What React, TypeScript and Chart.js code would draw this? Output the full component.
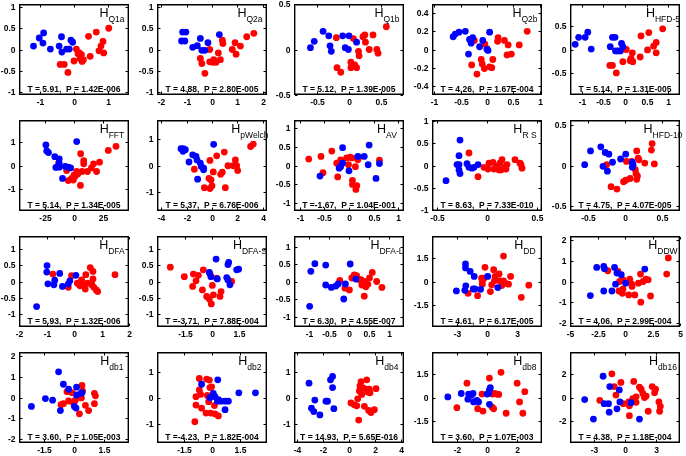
import React, { useEffect, useRef } from 'react';
import { Chart, registerables } from 'chart.js';
Chart.register(...registerables);

type Pt = [number, number];

// ---------- data (x = first feature score, y = second score) ----------
const q1aBlue: Pt[] = [[-1.2,0.08],[-1.03,0.27],[-0.9,0.39],[-0.92,0.15],[-0.7,0.01],[-0.44,0.08],[-0.37,0.3],[-0.36,-0.06],[-0.22,0.01],[-0.14,0.01],[-0.09,0.22],[-0.04,0.17]];
const q1aRed: Pt[] = [[0.07,0.01],[0.16,-0.08],[0,-0.27],[-0.41,-0.35],[-0.29,-0.35],[-0.18,-0.54],[0.18,-0.21],[0.24,-0.28],[0.28,-0.24],[0.22,-0.12],[0.48,-0.16],[0.43,0.31],[0.66,0.41],[1.03,0.5],[0.86,0.19],[0.8,0.08],[0.74,-0.03],[0.88,-0.08],[0.12,-0.1]];
const q2aBlue: Pt[] = [[-1.16,0.41],[-1.03,0.41],[-1.2,0.2],[-1.07,0.2],[-0.76,0.05],[-0.58,0.09],[-0.46,0.26],[-0.4,-0.02],[-0.28,-0.02],[-0.16,0.16],[0.29,0.35]];
const q2aRed: Pt[] = [[-0.09,0],[-0.46,-0.21],[-0.4,-0.33],[-0.28,-0.56],[-0.09,-0.29],[0.07,-0.24],[0.16,-0.3],[0.25,-0.08],[0.33,-0.24],[0.41,0.22],[0.43,0.14],[0.8,0],[0.91,0.16],[0.95,-0.11],[1.12,0.08],[1.37,0.3],[1.65,0.38],[0.03,-0.3]];
const q1bBlue: Pt[] = [[-0.61,0.02],[-0.55,0.09],[-0.41,0.2],[-0.32,0.15],[-0.3,0.04],[-0.28,-0.02],[-0.1,0.15],[-0.06,0.02],[0.0,0.15],[0.12,0.08],[-0.01,0.0]];
const q1bRed: Pt[] = [[-0.2,0.13],[-0.19,-0.2],[-0.13,-0.25],[0.07,0.12],[0.15,-0.02],[0.22,0.14],[0.25,0.16],[0.38,0.16],[0.26,0.08],[0.32,0],[0.44,0],[0.46,-0.04],[0.59,0.25],[0.03,-0.14],[0.09,-0.17],[0.12,-0.2],[0.03,-0.2],[0.16,-0.07]];
const q2bBlue: Pt[] = [[-0.64,0.14],[-0.6,0.17],[-0.53,0.19],[-0.41,0.2],[-0.33,0.11],[-0.3,0.07],[-0.27,0.13],[-0.35,-0.05],[-0.14,0.03],[-0.08,0.1],[0,0],[0.05,0.19],[0.02,-0.01]];
const q2bRed: Pt[] = [[-0.24,0.1],[-0.04,0.06],[0,0.01],[-0.11,-0.11],[-0.09,-0.16],[-0.29,-0.17],[-0.19,-0.27],[-0.05,-0.21],[0.05,-0.19],[0.09,-0.2],[0.11,-0.11],[0.2,0.09],[0.21,0.13],[0.33,0.1],[0.38,-0.06],[0.46,-0.05],[0.4,0.05],[0.61,0.05],[0.76,0.2]];
const hfd5Blue: Pt[] = [[-1.15,0.11],[-1.07,0.26],[-0.92,0.26],[-0.86,0.37],[-0.78,0.01],[-0.34,0.06],[-0.29,0.26],[-0.23,0.26],[-0.22,-0.03],[-0.17,-0.03],[-0.08,0.13],[-0.05,0.06],[-0.11,-0.03]];
const hfd5Red: Pt[] = [[-0.03,0.01],[0.03,0],[-0.05,-0.26],[0.17,-0.07],[0.14,-0.19],[0.12,-0.24],[0.18,-0.26],[-0.35,-0.34],[-0.29,-0.34],[-0.2,-0.5],[0.35,-0.16],[0.37,0.29],[0.55,0.36],[0.52,-0.01],[0.66,0.07],[0.72,0.15],[0.72,-0.07],[0.87,0.44]];
const fftBlue: Pt[] = [[-24,0.86],[-23.3,0.61],[-21.8,0.54],[-16.4,0.37],[-12.6,0.28],[-12.6,0.1],[-15.5,-0.08],[-12.6,-0.07],[-7.5,-0.04],[-4.9,-0.07],[-2.9,-0.1],[-9.8,-0.54],[2.3,1.0]];
const fftRed: Pt[] = [[-13.2,0.1],[-6.3,-0.21],[-4.9,-0.63],[-2,-0.54],[-0.6,-0.61],[0.9,-0.46],[3.2,-0.35],[5.5,-0.83],[6.9,-0.25],[5.7,0.49],[8.3,0.2],[8.3,0.07],[11.5,-0.25],[14.9,-0.1],[16.7,0.07],[19.3,-0.25],[21.8,0.14],[29.3,0.63],[35.9,0.8],[2.3,-0.25],[0,-0.4]];
const welchBlue: Pt[] = [[-2.44,0.63],[-2.26,0.63],[-2.28,0.53],[-2.1,0.59],[-1.52,0.4],[-1.26,0.34],[-1.18,0.21],[-0.92,0.09],[-0.84,-0.04],[-0.66,-0.1],[-0.66,-0.16],[-1.81,0.13],[-1.13,-0.51],[0.13,0.79]];
const welchRed: Pt[] = [[-1.39,-0.14],[-0.6,-0.83],[-0.24,-0.48],[-0.16,-0.86],[0,-0.76],[-0.08,-0.54],[-0.16,0.19],[0.1,-0.24],[0.37,0.36],[0.68,-0.33],[0.81,-0.25],[0.97,0.5],[1.05,-0.83],[1.26,-0.01],[1.68,-0.01],[1.84,0.21],[1.94,-0.01],[2.02,-0.19],[3.04,0.71],[3.25,0.8]];
const avBlue: Pt[] = [[-0.59,-0.28],[-0.17,-0.03],[-0.13,0.06],[-0.13,0.47],[0,-0.14],[0.18,0.24],[0.31,0.24],[0.41,0.54],[0.39,0.02],[0.55,-0.34],[0.62,0.05],[-0.2,-0.07]];
const avRed: Pt[] = [[-0.82,0.17],[-0.57,0.24],[-0.35,0.38],[-0.25,0.06],[-0.17,0.15],[-0.53,-0.19],[-0.23,-0.3],[-0.19,0.02],[-0.05,0.2],[0.02,0.22],[0.06,0.2],[0.07,-0.39],[0.07,-0.5],[0.14,-0.63],[0.16,-0.53],[-0.01,0.02],[0.13,-0.03],[0.18,0.15],[0.62,0.14],[0.2,0.22]];
const rsBlue: Pt[] = [[-0.41,-0.34],[-0.27,0.57],[-0.28,0.22],[-0.3,0.02],[-0.28,0.02],[-0.28,-0.1],[-0.27,-0.18],[-0.2,0.04],[-0.18,-0.04],[-0.15,-0.06],[-0.13,-0.04],[-0.09,0.02]];
const rsRed: Pt[] = [[-0.18,0.28],[-0.09,-0.25],[-0.03,-0.04],[0.01,-0.08],[0.02,0.05],[0.06,0.07],[0.07,-0.08],[0.1,-0.02],[0.13,0.05],[0.14,-0.1],[0.15,0.13],[0.18,-0.04],[0.19,-0.08],[0.2,0.02],[0.28,0.13],[0.33,0.05],[0.34,0.02],[0.35,-0.06],[0.12,-0.1]];
const hfd10Blue: Pt[] = [[-0.55,0.01],[-0.47,0.18],[-0.33,0.23],[-0.27,0.16],[-0.22,0.14],[-0.3,-0.01],[-0.24,-0.07],[-0.17,0.04],[-0.06,0.08],[0.01,0.14],[0.1,0.04],[0.11,0.01],[0.1,-0.02]];
const hfd10Red: Pt[] = [[-0.25,0.01],[-0.19,-0.26],[-0.11,-0.29],[-0.02,-0.2],[0.01,-0.18],[0.07,-0.16],[0.14,-0.05],[0.15,-0.1],[0.17,-0.13],[0.16,-0.17],[0.16,0.18],[0.19,0.07],[0.18,0.09],[0.27,0.03],[0.36,0.19],[0.37,0.27],[0.4,0.02],[0.02,0.05],[0.09,0.05]];
const dfaBlue: Pt[] = [[-1.36,-0.77],[-0.98,0.49],[-0.99,0.29],[-0.95,-0.07],[-0.7,0.04],[-0.73,-0.1],[-0.52,0.25],[-0.42,-0.15],[-0.21,-0.08],[-0.15,0.02],[0.07,0.19]];
const dfaRed: Pt[] = [[-0.77,0.23],[-0.21,-0.18],[-0.09,0.18],[0.12,-0.05],[0.2,-0.1],[0.26,0],[0.28,0.05],[0.32,-0.08],[0.22,-0.13],[0.43,0.21],[0.41,-0.23],[0.59,0.43],[0.69,0.31],[0.69,0.08],[0.72,-0.18],[0.81,-0.26],[0.86,-0.31],[0.65,-0.1],[1.49,0.21],[0.49,-0.05]];
const dfasBlue: Pt[] = [[-0.15,0.28],[-0.06,0.15],[0.23,0.69],[0.3,0.08],[0.83,0.12],[0.9,0.52],[0.94,0.59],[0.9,0.05],[1.01,-0.1],[1.39,0.36],[1.5,0.38]];
const dfasRed: Pt[] = [[-2.35,0.44],[-1.56,0.15],[-1.05,0.23],[-1.09,-0.15],[-0.77,0.19],[-0.9,0.02],[-0.49,0.36],[-0.54,-0.26],[-0.3,-0.46],[-0.15,-0.54],[0.02,-0.12],[0.08,-0.41],[-0.04,-0.69],[-0.11,0.23],[0.26,0.1],[0.45,-0.46],[0.51,-0.31],[1.11,0]];
const dfalBlue: Pt[] = [[-0.98,-0.71],[-0.95,0.29],[-0.85,0.51],[-0.58,0.47],[-0.58,-0.1],[-0.44,-0.17],[-0.33,-0.13],[-0.27,-0.07],[-0.13,-0.5],[-0.09,-0.07],[0.03,0.5],[0.17,0.07]];
const dfalRed: Pt[] = [[-0.23,0.03],[-0.1,-0.19],[0.01,-0.24],[0.07,0.1],[0.13,0.19],[0.19,0.17],[0.26,0.05],[0.32,-0.1],[0.38,0],[0.42,-0.15],[0.47,-0.08],[0.58,0.26],[0.69,0],[0.82,-0.17],[0.38,-0.42],[0.51,0.1],[0.3,0.05]];
const ddBlue: Pt[] = [[-3.06,-0.59],[-2.15,1.1],[-2.15,0.85],[-2.12,-0.27],[-2.22,-0.55],[-1.68,0.63],[-1.28,0.32],[-1.38,-0.47],[-1.21,-0.47],[-0.64,-0.49],[0.07,0.32],[1.08,-0.38]];
const ddRed: Pt[] = [[-1.89,-0.74],[-0.94,-0.89],[-0.54,0.21],[-0.47,-0.17],[-0.2,0.89],[-0.47,0],[-0.3,0.21],[0.34,-0.63],[0.47,-0.21],[0.67,0.74],[0.74,0.04],[0.81,0.32],[1.21,0.47],[1.28,0.04],[1.48,-0.25],[1.65,1.59],[1.82,-0.11],[2.15,-0.17],[2.36,0.32],[3.43,-0.99],[4.18,-0.23],[1.65,0.04]];
const ddwBlue: Pt[] = [[-3.15,-0.68],[-2.57,0.68],[-1.93,0.73],[-1.87,0.62],[-1.93,-0.46],[-1.19,-0.46],[-0.95,0.68],[-0.73,0.41],[-0.34,0.33],[-0.86,-0.13],[0.06,-0.08],[1.8,0.6]];
const ddwRed: Pt[] = [[-1.56,0.52],[-0.64,0.49],[-0.49,0],[-0.55,-0.46],[-0.24,-0.57],[-0.18,0.08],[-0.18,-0.36],[0.43,0.11],[0.34,-0.65],[0.61,-0.13],[0.64,-0.24],[0.89,-0.65],[1.22,-0.08],[1.41,0.36],[1.44,-1.0],[1.65,0],[1.9,0.11],[2.11,0.08],[2.32,-0.7],[3.79,0.36],[3.94,1.14]];
const db1Blue: Pt[] = [[-2.13,-0.43],[-1.43,-0.05],[-1.07,-0.13],[-0.77,1.24],[-0.53,0.64],[-0.68,-0.63],[-0.27,0.4],[0.13,0.5],[0.02,-0.43],[0.1,-0.51],[0.13,0.12],[0.35,0.2],[0.4,0.23]];
const db1Red: Pt[] = [[-0.65,-0.35],[-0.53,-0.3],[-0.35,0.28],[-0.27,-0.17],[-0.1,0.23],[0.02,-0.18],[0.07,-0.13],[-0.03,-0.26],[0.27,-0.79],[0.32,0.07],[0.37,-0.02],[0.4,0.58],[0.43,0.31],[0.57,-0.38],[0.73,-0.63],[1.02,0.2],[1.07,0.08],[1.02,-0.3]];
const db2Blue: Pt[] = [[-0.56,0.51],[0.07,0.16],[0.16,0.03],[-0.11,-0.01],[0.29,-0.14],[0.34,-0.08],[0.47,-0.14],[0.31,0.68],[0.7,-0.14],[0.88,-0.14],[0.7,-0.47],[1.44,0.18],[2.33,0.18]];
const db2Red: Pt[] = [[-0.92,-0.93],[-0.86,0.03],[-0.86,-0.29],[-0.68,0.29],[-0.68,0.73],[-0.56,-0.41],[-0.61,0.12],[-0.29,0.71],[-0.14,0.67],[-0.25,0.08],[-0.11,0.38],[-0.02,0.41],[-0.32,-0.6],[-0.07,-0.6],[0.16,-0.63],[0.34,-0.71],[0.13,-0.31],[-0.18,-0.16]];
const db4Blue: Pt[] = [[-3.09,0.55],[-2.9,-0.41],[-2.64,-0.1],[-2.72,-0.54],[-2.25,-0.67],[-1.78,-0.14],[-1.66,-0.14],[-1.43,0.68],[-1.27,0.81],[-1.27,0.38],[-1.17,-0.43]];
const db4Red: Pt[] = [[0.15,-0.21],[0.41,-0.28],[0.6,-0.32],[0.67,-0.05],[0.8,0.25],[0.85,0.45],[0.93,0.61],[1.06,0.38],[0.98,0.12],[1.37,0.68],[1.32,0.32],[1.45,0.21],[1.57,0.32],[1.62,0.18],[1.52,-0.5],[1.7,-0.58],[0.75,-0.87],[1.96,-0.47],[2.09,0.34],[1.19,-0.34]];
const db8Blue: Pt[] = [[-2.6,0.04],[-1.71,0.26],[-1.27,-0.11],[-1.22,0.22],[-1.04,0.15],[-0.93,0.26],[-0.89,-0.29],[-0.67,-0.18],[-0.56,-0.29],[0,0.22],[0.11,0.26],[0.22,0.64],[0.16,-0.44],[0.16,0.49]];
const db8Red: Pt[] = [[-2,-0.66],[-1.33,0.93],[-0.62,-0.73],[-0.33,0.22],[-0.27,-0.88],[0.16,1.26],[0.33,-0.62],[0.44,-0.73],[0.38,0.22],[0.51,0.26],[0.67,0.22],[0.78,0.2],[0.93,1.63],[1.27,-1.02],[2,0.93],[2.16,-0.29],[2.51,0.38],[2.38,-1.02]];
const db16Blue: Pt[] = [[-3.96,-0.18],[-3.1,-1.85],[-2.15,1.82],[-2.05,-0.53],[-1.62,-0.53],[-1.55,-1.26],[-1.49,0.94],[-0.79,-0.97],[-0.56,0.65],[-0.5,-0.38],[0.59,-0.44],[1.42,-1.85]];
const db16Red: Pt[] = [[-2.48,-0.24],[-1.29,2.03],[-1.06,0.94],[-0.89,0.21],[-0.4,1.29],[-0.17,-0.53],[0.36,-0.38],[0.43,-0.71],[0.43,-1.56],[0.86,1.38],[1.09,0.06],[1.42,0.88],[1.58,0.71],[1.75,0.35],[1.91,0],[2.08,0.12],[2.28,-1.18],[2.9,0.41],[3.0,0.71],[2.67,0.94],[3.33,-0.38],[3.4,-1.18],[3.47,-0.76],[1.09,-0.41],[0.76,-0.09]];

const bluePoints: Pt[][] = [q1aBlue, q2aBlue, q1bBlue, q2bBlue, hfd5Blue, fftBlue, welchBlue, avBlue, rsBlue, hfd10Blue, dfaBlue, dfasBlue, dfalBlue, ddBlue, ddwBlue, db1Blue, db2Blue, db4Blue, db8Blue, db16Blue];
const redPoints: Pt[][] = [q1aRed, q2aRed, q1bRed, q2bRed, hfd5Red, fftRed, welchRed, avRed, rsRed, hfd10Red, dfaRed, dfasRed, dfalRed, ddRed, ddwRed, db1Red, db2Red, db4Red, db8Red, db16Red];

const panelNames = ['Q1a', 'Q2a', 'Q1b', 'Q2b', 'HFD-5', 'FFT', 'pWelch', 'AV', 'R S', 'HFD-10', 'DFA', 'DFA-S', 'DFA-L', 'DD', 'DDW', 'db1', 'db2', 'db4', 'db8', 'db16'];
const tStats = [5.91, 4.88, 5.12, 4.26, 5.14, 5.14, 5.37, -1.67, 8.63, 4.75, 5.93, -3.71, 6.30, 4.61, 4.06, 3.60, -4.23, 14.93, 3.60, 4.38];
const pStats = ['1.42E-006', '2.80E-005', '1.39E-005', '1.67E-004', '1.31E-005', '1.34E-005', '6.76E-006', '1.04E-001', '7.33E-010', '4.07E-005', '1.32E-006', '7.88E-004', '4.55E-007', '6.17E-005', '2.99E-004', '1.05E-003', '1.82E-004', '5.65E-016', '1.07E-003', '1.18E-004'];

const xTicks: number[][] = [[-1,0,1],[-2,-1,0,1,2],[-0.5,0,0.5],[-1,-0.5,0,0.5,1],[-1,-0.5,0,0.5,1],[-25,0,25],[-4,-2,0,2,4],[-1,-0.5,0,0.5,1],[-0.5,0,0.5],[-0.5,0,0.5],[-2,-1,0,1,2],[-1.5,0,1.5],[-1,-0.5,0,0.5,1],[-3,0,3],[-5,-2.5,0,2.5,5],[-1.5,0,1.5],[-1.5,0,1.5],[-4,-2,0,2,4],[-2,0,2],[-3,0,3]];
const yTicks: number[][] = [[-1,-0.5,0,0.5,1],[-1,-0.5,0,0.5,1],[-0.5,0,0.5],[-0.4,-0.2,0,0.2,0.4],[-0.5,0,0.5],[-1,0,1],[-1,0,1],[-1,-0.5,0,0.5,1],[-1,-0.5,0,0.5,1],[-0.5,0,0.5],[-1,-0.5,0,0.5,1],[-1,-0.5,0,0.5,1],[-1,-0.5,0,0.5,1],[-1.5,0,1.5],[-2,-1,0,1,2],[-2,-1,0,1,2],[-1,0,1],[-1,0,1],[-1.5,0,1.5],[-2,0,2]];
const xHalfRange = [1.63, 2.17, 0.87, 1.04, 1.27, 47, 4.33, 1.12, 0.55, 0.75, 2.0, 3.1, 1.37, 5.5, 5.0, 2.75, 2.95, 4.25, 3.65, 5.4];
const yHalfRange = [1.07, 1.07, 0.5, 0.5, 0.97, 1.9, 1.7, 1.2, 1.02, 0.56, 1.4, 1.4, 1.3, 2.85, 2.2, 2.2, 1.75, 1.75, 2.95, 3.9];

// ---------- layout ----------
const COL_LEFT = [19, 157, 294, 432, 570];
const ROW_TOP = [4, 120, 236, 352];
const BOX_W = 110;
const BOX_H = 91;
const AXIS_W = 30;
const AXIS_H = 16;
const PAD_T = 6;
const PAD_R = 8;
const FONT = '"Liberation Sans", Arial, Helvetica, sans-serif';
const TICK_LEN = 2.5;

const framePlugin = {
  id: 'frame',
  afterDraw(chart: any, _args: any, opts: any) {
    const { ctx, chartArea: a, scales } = chart;
    const i = opts.index as number;
    const L = Math.round(a.left), R = Math.round(a.right), T = Math.round(a.top), B = Math.round(a.bottom);
    ctx.save();
    ctx.globalAlpha = 1;
    ctx.globalCompositeOperation = 'source-over';
    ctx.setLineDash([]);
    ctx.strokeStyle = '#000';
    ctx.fillStyle = '#000';
    // axes box
    ctx.lineWidth = 1.4;
    ctx.beginPath();
    ctx.rect(L + 0.7, T + 0.7, R - L - 1.4, B - T - 1.4);
    ctx.stroke();
    // inward tick marks on all four sides
    ctx.lineWidth = 1;
    ctx.beginPath();
    for (const v of xTicks[i]) {
      const px = Math.round(scales.x.getPixelForValue(v)) + 0.5;
      ctx.moveTo(px, B - 1); ctx.lineTo(px, B - 1 - TICK_LEN);
      ctx.moveTo(px, T + 1); ctx.lineTo(px, T + 1 + TICK_LEN);
    }
    for (const v of yTicks[i]) {
      const py = Math.round(scales.y.getPixelForValue(v)) + 0.5;
      ctx.moveTo(L + 1, py); ctx.lineTo(L + 1 + TICK_LEN, py);
      ctx.moveTo(R - 1, py); ctx.lineTo(R - 1 - TICK_LEN, py);
    }
    ctx.stroke();
    // tick labels
    ctx.font = `bold 8.5px ${FONT}`;
    ctx.textAlign = 'center';
    ctx.textBaseline = 'middle';
    for (const v of xTicks[i]) {
      const px = Math.round(scales.x.getPixelForValue(v));
      ctx.fillText(String(v), px + 0.5, B + 7.5);
    }
    ctx.textAlign = 'right';
    for (const v of yTicks[i]) {
      const py = Math.round(scales.y.getPixelForValue(v));
      ctx.fillText(String(v), L - 3.5, py + 0.5);
    }
    // statistics
    ctx.textAlign = 'center';
    ctx.textBaseline = 'alphabetic';
    const t = tStats[i];
    const stat = `T =${t < 0 ? '' : ' '}${t.toFixed(2)},  P = ${pStats[i]}`;
    ctx.fillText(stat, (L + R) / 2, B - 3.5);
    // title H_sub
    ctx.textAlign = 'left';
    ctx.font = `12.5px ${FONT}`;
    const hw = ctx.measureText('H').width;
    ctx.font = `8.5px ${FONT}`;
    const sw = ctx.measureText(panelNames[i]).width;
    const cx = L + 0.845 * (R - L);
    const x0 = cx - (hw + sw) / 2;
    ctx.font = `12.5px ${FONT}`;
    ctx.fillText('H', x0, T + 12.5);
    ctx.font = `8.5px ${FONT}`;
    ctx.fillText(panelNames[i], x0 + hw, T + 18);
    ctx.restore();
  },
};

function Panel({ i }: { i: number }) {
  const ref = useRef<HTMLCanvasElement>(null);
  const col = i % 5;
  const row = Math.floor(i / 5);
  const w = AXIS_W + BOX_W + PAD_R;
  const h = PAD_T + BOX_H + AXIS_H;

  useEffect(() => {
    const toXY = (p: Pt[]) => p.map(([x, y]) => ({ x, y }));
    const chart = new Chart(ref.current as HTMLCanvasElement, {
      type: 'scatter',
      data: {
        datasets: [
          { data: toXY(bluePoints[i]), pointBackgroundColor: '#0000ff', pointBorderWidth: 0, pointRadius: 3.4 },
          { data: toXY(redPoints[i]), pointBackgroundColor: '#ff0000', pointBorderWidth: 0, pointRadius: 3.4 },
        ],
      },
      options: {
        animation: false,
        responsive: false,
        maintainAspectRatio: false,
        devicePixelRatio: 1,
        events: [],
        layout: { padding: { top: PAD_T, right: PAD_R, left: AXIS_W, bottom: AXIS_H } },
        plugins: {
          legend: { display: false },
          tooltip: { enabled: false },
          title: { display: false },
          frame: { index: i },
        } as any,
        scales: {
          x: { type: 'linear', display: false, min: -xHalfRange[i], max: xHalfRange[i] },
          y: { type: 'linear', display: false, min: -yHalfRange[i], max: yHalfRange[i] },
        },
      } as any,
      plugins: [framePlugin],
    });
    return () => chart.destroy();
  }, [i]);

  return (
    <canvas
      ref={ref}
      width={w}
      height={h}
      style={{ position: 'absolute', left: COL_LEFT[col] - AXIS_W, top: ROW_TOP[row] - PAD_T, width: w, height: h }}
    />
  );
}

export default function App() {
  return (
    <div style={{ position: 'fixed', left: 0, top: 0, width: 686, height: 456, background: '#fff', overflow: 'hidden' }}>
      {panelNames.map((_, i) => (
        <Panel key={i} i={i} />
      ))}
    </div>
  );
}
